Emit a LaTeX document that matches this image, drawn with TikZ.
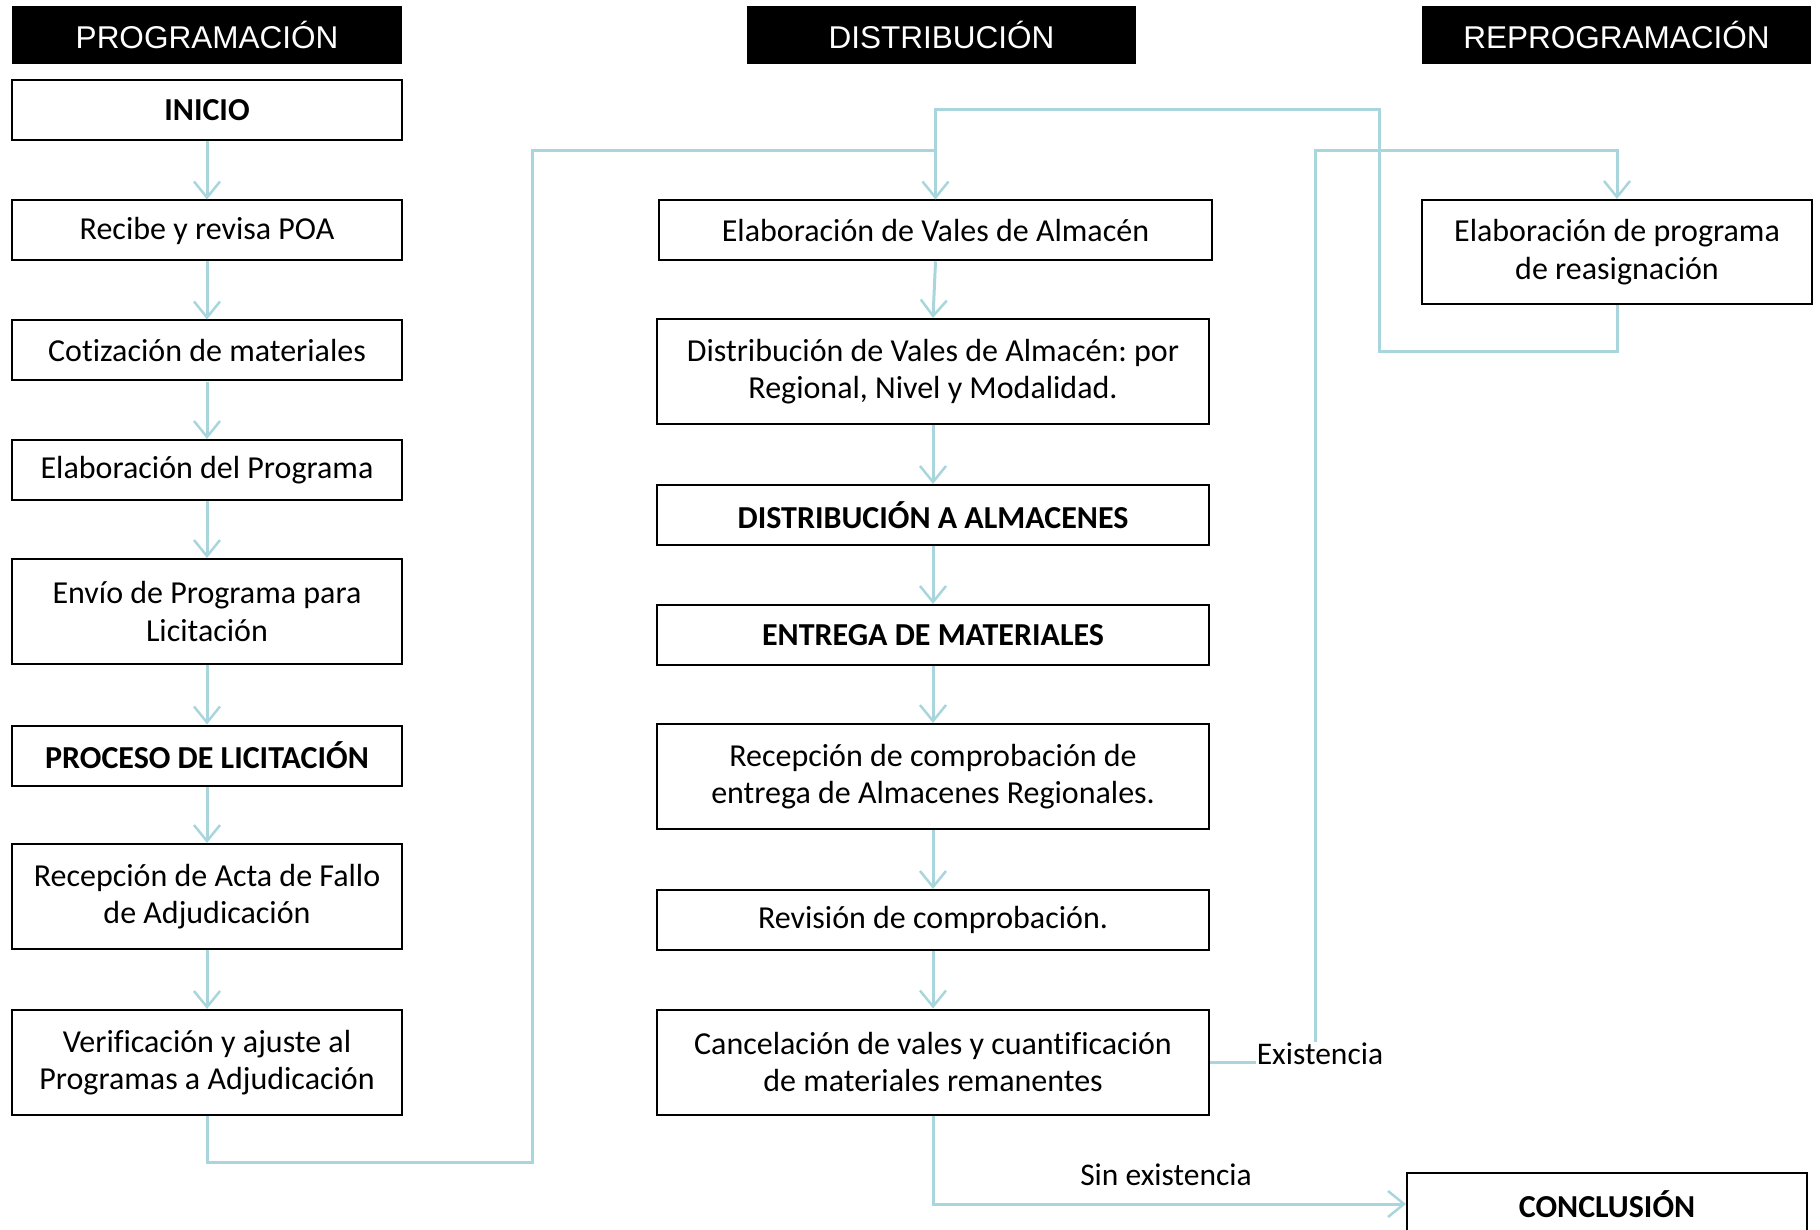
\documentclass[tikz,border=0pt]{standalone}
\usepackage{fontspec}
\setmainfont[Ligatures={NoCommon}]{Carlito}
\newfontfamily\hdrfont{Liberation Sans}
\usetikzlibrary{arrows.meta}
\frenchspacing
\definecolor{conncol}{RGB}{168,214,220}
\tikzset{
  hdr/.style={fill=black, text=white, inner sep=0pt, font=\hdrfont\fontsize{31.5}{36}\selectfont},
  box/.style={draw=black, line width=2pt, fill=white, inner sep=0pt, align=center, font=\fontsize{32}{37.5}\selectfont},
  conn/.style={draw=conncol, line width=3pt, line join=miter},
  arr/.style={conn, -{Straight Barb[length=16pt,width=26pt,line width=2.5pt]}},
  lbl/.style={inner sep=1pt, font=\fontsize{31.5}{37}\selectfont}
}
\begin{document}
\begin{tikzpicture}[x=1pt,y=-1pt]
\useasboundingbox (0,0) rectangle (1820,1230);
\clip (0,0) rectangle (1820,1230);
% headers
\node[hdr, minimum width=390, minimum height=58] (h1) at (207,35) {PROGRAMACIÓN};
\node[hdr, minimum width=389, minimum height=58] (h2) at (941.5,35) {DISTRIBUCIÓN};
\node[hdr, minimum width=389, minimum height=58] (h3) at (1616.5,35) {REPROGRAMACIÓN};
% column 1
\node[box, minimum width=390, minimum height=60] (inicio) at (207,110) {\textbf{INICIO}};
\node[box, minimum width=390, minimum height=60] (recibe) at (207,230.5) {Recibe y revisa POA};
\node[box, minimum width=390, minimum height=60] (cotiz) at (207,350.5) {Cotización de materiales};
\node[box, minimum width=390, minimum height=60] (elab) at (207,470) {Elaboración del Programa};
\node[box, minimum width=390, minimum height=105] (envio) at (207,611.5) {Envío de Programa para\\Licitación};
\node[box, minimum width=390, minimum height=60] (proceso) at (207,755.5) {\textbf{PROCESO DE LICITACIÓN}};
\node[box, minimum width=390, minimum height=105] (acta) at (207,896.5) {Recepción de Acta de Fallo\\de Adjudicación};
\node[box, minimum width=390, minimum height=105] (verif) at (207,1062.5) {Verificación y ajuste al\\Programas a Adjudicación};
% column 2
\node[box, minimum width=553, minimum height=60] (vales) at (935.5,230.5) {Elaboración de Vales de Almacén};
\node[box, minimum width=552, minimum height=105] (distv) at (933,371.5) {Distribución de Vales de Almacén: por\\Regional, Nivel y Modalidad.};
\node[box, minimum width=552, minimum height=60] (dalm) at (933,515) {\textbf{DISTRIBUCIÓN A ALMACENES}};
\node[box, minimum width=552, minimum height=60] (entrega) at (933,635) {\textbf{ENTREGA DE MATERIALES}};
\node[box, minimum width=552, minimum height=105] (recep) at (933,776.5) {Recepción de comprobación de\\entrega de Almacenes Regionales.};
\node[box, minimum width=552, minimum height=60] (revis) at (933,920) {Revisión de comprobación.};
\node[box, minimum width=552, minimum height=105] (cancel) at (933,1062) {Cancelación de vales y cuantificación\\de materiales remanentes};
% column 3
\node[box, minimum width=390, minimum height=104] (reasig) at (1617,252) {Elaboración de programa\\de reasignación};
\node[box, minimum width=400, minimum height=62] (concl) at (1607,1204) {\textbf{CONCLUSIÓN}};
% column 1 arrows
\draw[arr] (inicio) -- (recibe);
\draw[arr] (recibe) -- (cotiz);
\draw[arr] (cotiz) -- (elab);
\draw[arr] (elab) -- (envio);
\draw[arr] (envio) -- (proceso);
\draw[arr] (proceso) -- (acta);
\draw[arr] (acta) -- (verif);
% column 2 arrows
\draw[arr] (vales.south) -- (distv.north);
\draw[arr] (distv) -- (dalm);
\draw[arr] (dalm) -- (entrega);
\draw[arr] (entrega) -- (recep);
\draw[arr] (recep) -- (revis);
\draw[arr] (revis) -- (cancel);
% waypoints
\coordinate (a1) at (532,1162);
\coordinate (a2) at (532,151);
\coordinate (b1) at (1617,352);
\coordinate (b2) at (1379,352);
\coordinate (b3) at (1379,110);
\coordinate (c1) at (1315,1062);
\coordinate (c2) at (1315,151);
% programacion -> distribucion
\draw[conn] (verif.south) |- (a1) -- (a2) -- (a2 -| vales.north);
% reasignacion -> vales
\draw[arr] (reasig.south) -- (b1) -- (b2) -- (b3) -| (vales.north);
% cancel -> reasignacion
\draw[arr] (cancel.east) -- (c1) -- (c2) -| (reasig.north);
% cancel -> conclusion
\draw[arr] (cancel.south) |- (concl.west);
% labels
\node[lbl, fill=white] (exist) at (1320,1054) {Existencia};
\node[lbl] (sinex) at (1166,1175) {Sin existencia};
\end{tikzpicture}
\end{document}
